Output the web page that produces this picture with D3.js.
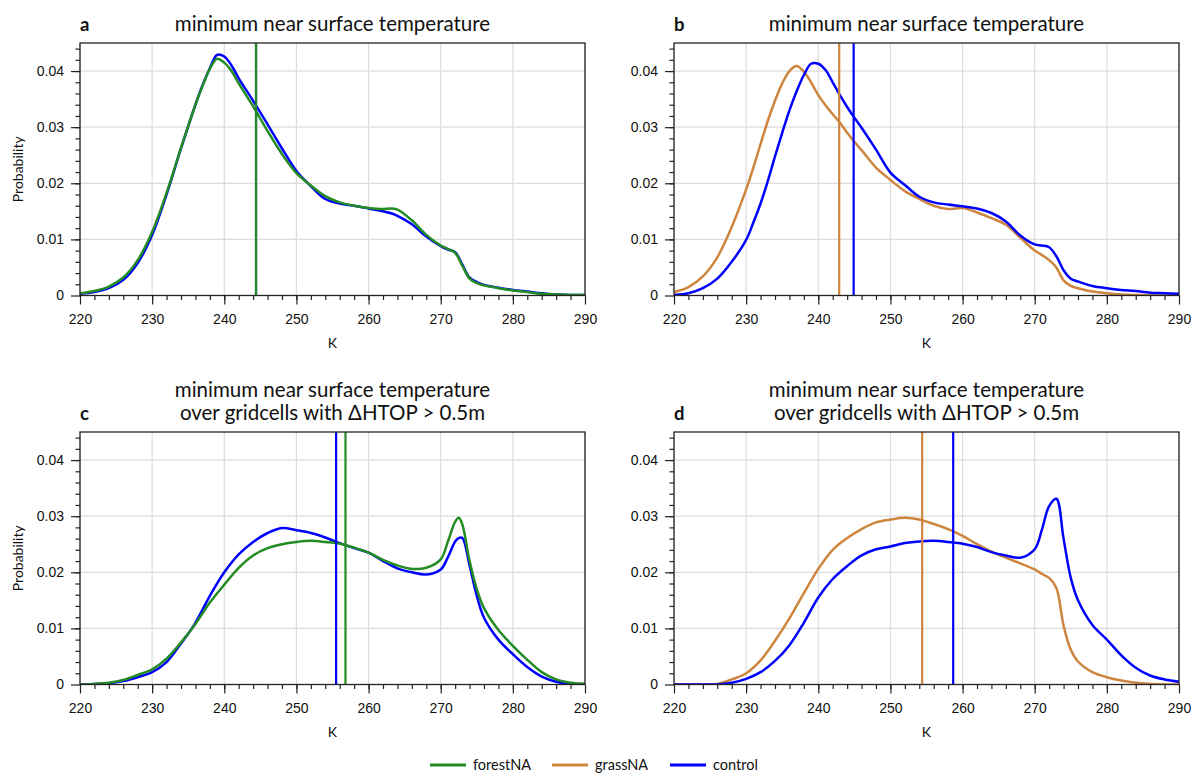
<!DOCTYPE html>
<html>
<head>
<meta charset="utf-8">
<script src="https://cdn.jsdelivr.net/npm/d3@7"></script>
<style>
  body { margin: 0; background: #fff; }
  svg { font-family: Lato, 'Noto Sans', sans-serif; }
  svg text { fill: #111; }
</style>
</head>
<body>
<svg id="chart" width="1191" height="775"></svg>
<script>
/*** DATA ***/
//panel a: all gridcells, forestNA vs control
var tempsA = [220,222,224,226,228,230,232,234,236,237,238,239,240,241,242,244,246,248,250,252,254,256,258,260,262,263,264,266,268,270,271,272,273,274,275,276,278,280,282,284,286,288,290];
var controlA = [0.0003,0.0006,0.0013,0.0028,0.0058,0.0108,0.0180,0.0262,0.0340,0.0375,0.0405,0.0429,0.0426,0.0410,0.0387,0.0347,0.0305,0.0262,0.0222,0.0195,0.0172,0.0164,0.0160,0.0155,0.0150,0.0147,0.0142,0.0127,0.0105,0.0088,0.0082,0.0077,0.0055,0.0032,0.0024,0.0019,0.0014,0.0010,0.0007,0.0004,0.0002,0.0001,0.0001];
var forestA = [0.0004,0.0008,0.0016,0.0032,0.0063,0.0113,0.0183,0.0263,0.0340,0.0374,0.0404,0.0422,0.0415,0.0400,0.0378,0.0337,0.0293,0.0252,0.0218,0.0196,0.0177,0.0166,0.0160,0.0156,0.0154,0.0155,0.0153,0.0134,0.0108,0.0089,0.0083,0.0076,0.0053,0.0030,0.0022,0.0018,0.0013,0.0009,0.0006,0.0003,0.0002,0.0001,0.0001];
var meansA = [244.4, 244.4];

//panel b: all gridcells, grassNA vs control
var tempsB = [220,222,224,226,228,230,231,232,233,234,235,236,237,238,239,240,241,242,243,244,245,246,248,250,252,254,256,258,260,262,264,266,268,270,271,272,273,274,275,276,278,280,282,284,286,288,290];
var grassB = [0.0006,0.0015,0.0034,0.0068,0.0122,0.0189,0.0228,0.0270,0.0311,0.0347,0.0378,0.0400,0.0409,0.0399,0.0380,0.0357,0.0339,0.0323,0.0308,0.0290,0.0274,0.0259,0.0228,0.0206,0.0186,0.0172,0.0160,0.0154,0.0156,0.0148,0.0138,0.0126,0.0103,0.0080,0.0072,0.0063,0.0050,0.0027,0.0017,0.0013,0.0007,0.0004,0.0002,0.0001,0.0001,0,0];
var controlB = [0.0001,0.0004,0.0013,0.0030,0.0060,0.0099,0.0130,0.0164,0.0204,0.0248,0.0290,0.0330,0.0364,0.0393,0.0413,0.0413,0.0402,0.0380,0.0357,0.0336,0.0317,0.0299,0.0260,0.0219,0.0197,0.0176,0.0166,0.0162,0.0159,0.0155,0.0147,0.0132,0.0107,0.0091,0.0089,0.0086,0.0070,0.0045,0.0030,0.0025,0.0017,0.0013,0.0010,0.0008,0.0005,0.0004,0.0003];
var meansB = [242.9, 244.9];

//panel c: gridcells with dHTOP > 0.5m, forestNA vs control
var tempsC = [220,222,224,226,228,230,232,234,236,238,240,242,244,246,248,250,252,254,256,258,260,262,264,266,268,270,271,272,272.5,273,274,275,276,278,280,282,284,286,288,290];
var controlC = [0,0.0001,0.0002,0.0006,0.0013,0.0022,0.0040,0.0073,0.0110,0.0158,0.0200,0.0232,0.0254,0.0270,0.0279,0.0275,0.0270,0.0262,0.0252,0.0243,0.0235,0.0220,0.0207,0.0200,0.0196,0.0205,0.0227,0.0255,0.0261,0.0261,0.0212,0.0158,0.0119,0.0080,0.0054,0.0031,0.0014,0.0005,0.0001,0.0001];
var forestC = [0,0.0001,0.0003,0.0008,0.0017,0.0027,0.0046,0.0075,0.0108,0.0146,0.0178,0.0208,0.0230,0.0243,0.0250,0.0254,0.0256,0.0254,0.0251,0.0244,0.0235,0.0222,0.0212,0.0206,0.0208,0.0223,0.0255,0.0290,0.0297,0.0285,0.0220,0.0170,0.0136,0.0097,0.0069,0.0044,0.0022,0.0009,0.0003,0.0001];
var meansC = [255.5, 256.8];

//panel d: gridcells with dHTOP > 0.5m, grassNA vs control
var tempsD = [220,222,224,226,228,230,232,234,236,238,240,242,244,246,248,250,252,254,256,258,260,262,264,266,268,270,271,272,273,274,275,276,278,280,282,284,286,288,290];
var grassD = [0,0,0,0.0001,0.0009,0.0020,0.0043,0.0078,0.0118,0.0163,0.0206,0.0240,0.0261,0.0277,0.0289,0.0294,0.0297,0.0294,0.0286,0.0277,0.0265,0.0250,0.0237,0.0226,0.0216,0.0205,0.0197,0.0190,0.0172,0.0105,0.0062,0.0041,0.0022,0.0013,0.0007,0.0003,0.0001,0,0];
var controlD = [0,0,0,0,0.0003,0.0010,0.0022,0.0042,0.0070,0.0110,0.0155,0.0188,0.0211,0.0230,0.0241,0.0246,0.0252,0.0255,0.0256,0.0254,0.0251,0.0245,0.0236,0.0230,0.0226,0.0241,0.0276,0.0318,0.0331,0.0260,0.0190,0.0150,0.0106,0.0080,0.0052,0.0030,0.0016,0.0009,0.0005];
var meansD = [254.4, 258.7];

//axis ticks
var xTicks = [220,230,240,250,260,270,280,290];
var yTicks = [0,0.01,0.02,0.03,0.04];

//legend
var legendNames = ['forestNA', 'grassNA', 'control'];
var colors = { forestNA: '#228B22', grassNA: '#CD853F', control: '#0000FF' };

var titleTop = ['minimum near surface temperature'];
var titleBottom = ['minimum near surface temperature', 'over gridcells with \u0394HTOP > 0.5m'];

/*** LAYOUT ***/
var panels = [
  { letter: 'a', left: 80, top: 43, temps: tempsA, names: ['control','forestNA'], values: [controlA, forestA], means: meansA, title: titleTop, ylabel: true },
  { letter: 'b', left: 674, top: 43, temps: tempsB, names: ['grassNA','control'], values: [grassB, controlB], means: meansB, title: titleTop, ylabel: false },
  { letter: 'c', left: 80, top: 432, temps: tempsC, names: ['control','forestNA'], values: [controlC, forestC], means: meansC, title: titleBottom, ylabel: true },
  { letter: 'd', left: 674, top: 432, temps: tempsD, names: ['grassNA','control'], values: [grassD, controlD], means: meansD, title: titleBottom, ylabel: false }
];
var panelW = 505, panelH = 252.5;

var svg = d3.select('#chart');

function drawPanel(p) {
  var x = d3.scaleLinear().domain([220, 290]).range([p.left, p.left + panelW]);
  var y = d3.scaleLinear().domain([0, 0.045]).range([p.top + panelH, p.top]);
  var g = svg.append('g').attr('class', 'panel');

  //grid
  g.selectAll('.gx').data(xTicks).enter().append('line')
    .attr('x1', d => x(d)).attr('x2', d => x(d))
    .attr('y1', p.top).attr('y2', p.top + panelH)
    .attr('stroke', '#dcdcdc').attr('stroke-width', 1.2);
  g.selectAll('.gy').data(yTicks).enter().append('line')
    .attr('x1', p.left).attr('x2', p.left + panelW)
    .attr('y1', d => y(d)).attr('y2', d => y(d))
    .attr('stroke', '#dcdcdc').attr('stroke-width', 1.2);

  //clip
  var clipId = 'clip-' + p.letter;
  svg.append('clipPath').attr('id', clipId).append('rect')
    .attr('x', p.left).attr('y', p.top).attr('width', panelW).attr('height', panelH);

  var plot = g.append('g').attr('clip-path', 'url(#' + clipId + ')');

  //pdf lines
  var line = d3.line()
    .x((d, k) => x(p.temps[k]))
    .y(d => y(Math.max(0, d)))
    .curve(d3.curveCatmullRom.alpha(0.5));
  p.values.forEach(function(vals, k) {
    plot.append('path')
      .attr('d', line(vals))
      .attr('fill', 'none')
      .attr('stroke', colors[p.names[k]])
      .attr('stroke-width', 2.5)
      .attr('stroke-linejoin', 'round');
  });

  //mean lines
  p.means.forEach(function(m, k) {
    plot.append('line')
      .attr('x1', x(m)).attr('x2', x(m))
      .attr('y1', p.top).attr('y2', p.top + panelH)
      .attr('stroke', colors[p.names[k]])
      .attr('stroke-width', 2.2);
  });

  //minor ticks
  g.append('g')
    .attr('transform', 'translate(0,' + (p.top + panelH) + ')')
    .call(d3.axisBottom(x).tickValues(d3.range(222, 290, 2)).tickSize(4.5).tickFormat(''))
    .call(a => a.select('.domain').remove());
  g.append('g')
    .attr('transform', 'translate(' + p.left + ',0)')
    .call(d3.axisLeft(y).tickValues(d3.range(1, 23).map(d => d * 0.002)).tickSize(4.5).tickFormat(''))
    .call(a => a.select('.domain').remove());

  //major ticks
  var xAxis = g.append('g')
    .attr('transform', 'translate(0,' + (p.top + panelH) + ')')
    .call(d3.axisBottom(x).tickValues(xTicks).tickSize(9).tickPadding(10).tickFormat(d3.format('d')));
  var yAxis = g.append('g')
    .attr('transform', 'translate(' + p.left + ',0)')
    .call(d3.axisLeft(y).tickValues(yTicks).tickSize(9).tickPadding(7)
      .tickFormat(d => d == 0 ? '0' : d3.format('.2f')(d)));
  [xAxis, yAxis].forEach(function(a) {
    a.select('.domain').remove();
    a.selectAll('text').attr('font-size', 14).attr('fill', '#111');
  });
  g.selectAll('.tick line').attr('stroke', '#222').attr('stroke-width', 1.2);

  //spines
  g.append('rect')
    .attr('x', p.left).attr('y', p.top)
    .attr('width', panelW).attr('height', panelH)
    .attr('fill', 'none').attr('stroke', '#222').attr('stroke-width', 1.3);

  //labels
  g.append('text')
    .attr('x', p.left + panelW / 2).attr('y', p.top + panelH + 52)
    .attr('text-anchor', 'middle').attr('font-size', 14)
    .text('K');
  if (p.ylabel) {
    g.append('text')
      .attr('transform', 'translate(23,' + (p.top + panelH / 2) + ') rotate(-90)')
      .attr('text-anchor', 'middle').attr('font-size', 14)
      .text('Probability');
  }

  //title
  var baseline = p.top - 12;
  var nLines = p.title.length;
  p.title.forEach(function(t, k) {
    g.append('text')
      .attr('x', p.left + panelW / 2)
      .attr('y', baseline - (nLines - 1 - k) * 23)
      .attr('text-anchor', 'middle').attr('font-size', 20.5)
      .text(t);
  });
  g.append('text')
    .attr('x', p.left).attr('y', baseline)
    .attr('font-size', 18.5).attr('font-weight', 'bold')
    .text(p.letter);
}

panels.forEach(drawPanel);

/*** LEGEND ***/
var legendX = [430, 552, 670];
var legend = svg.append('g').attr('class', 'legend');
legendNames.forEach(function(name, k) {
  legend.append('line')
    .attr('x1', legendX[k]).attr('x2', legendX[k] + 36)
    .attr('y1', 765).attr('y2', 765)
    .attr('stroke', colors[name]).attr('stroke-width', 3);
  legend.append('text')
    .attr('x', legendX[k] + 43).attr('y', 770)
    .attr('font-size', 14.5)
    .text(name);
});
</script>
</body>
</html>
